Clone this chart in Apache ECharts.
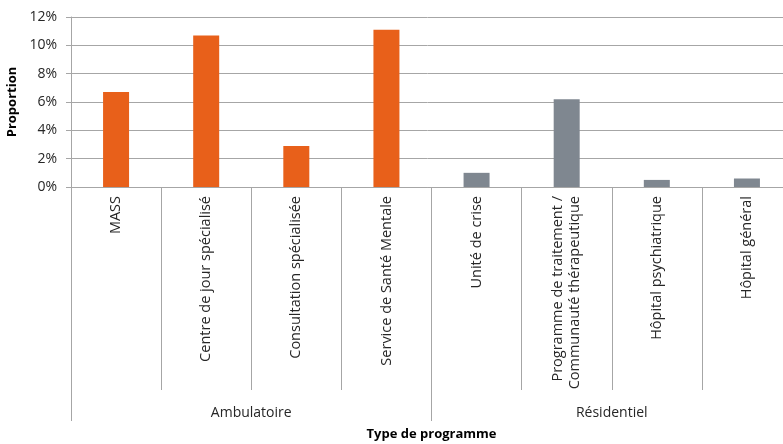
<!DOCTYPE html>
<html>
<head>
<meta charset="utf-8">
<script src="https://cdn.jsdelivr.net/npm/echarts@6/dist/echarts.min.js"></script>
<style>
  html, body { margin: 0; padding: 0; background: #fff; }
  #chart { width: 783px; height: 444px; }
</style>
</head>
<body>
<div id="chart"></div>
<script>
// catégories et valeurs (%)
const categories = [
  "MASS",
  "Centre de jour spécialisé",
  "Consultation spécialisée",
  "Service de Santé Mentale",
  "Unité de crise",
  "Programme de traitement /\nCommunauté thérapeutique",
  "Hôpital psychiatrique",
  "Hôpital général"
];
const values = [6.7, 10.7, 2.9, 11.1, 1.0, 6.2, 0.5, 0.6];
const groupOf = [0, 0, 0, 0, 1, 1, 1, 1];
const groups = ["Ambulatoire", "Résidentiel"];
const groupColors = ["#E8601A", "#7F8790"];
const yTicks = [0, 2, 4, 6, 8, 10, 12];

const font = "'Open Sans', 'Liberation Sans', sans-serif";
const axisGrey = "#A6A6A6";

const chart = echarts.init(document.getElementById("chart"));

const option = {
  animation: false,
  grid: { left: 71, right: -9, top: 17, bottom: 257, outerBoundsMode: "none", containLabel: false },
  xAxis: [
    {
      type: "category",
      data: categories,
      position: "bottom",
      axisLine: { show: true, lineStyle: { color: axisGrey, width: 1 } },
      axisTick: { show: true, length: 203, interval: 0, lineStyle: { color: axisGrey } },
      axisLabel: {
        interval: 0,
        rotate: 90,
        margin: 9,
        fontFamily: font,
        fontSize: 14.5,
        color: "#262626",
        lineHeight: 17
      },
      splitLine: { show: false }
    },
    {
      type: "category",
      data: groups,
      position: "bottom",
      axisLine: { show: false },
      axisTick: { show: true, length: 234, interval: 0, lineStyle: { color: axisGrey } },
      axisLabel: {
        interval: 0,
        margin: 219,
        fontFamily: font,
        fontSize: 14,
        color: "#262626"
      },
      name: "Type de programme",
      nameLocation: "middle",
      nameGap: 241,
      nameTextStyle: { fontFamily: font, fontSize: 13, fontWeight: "bold", color: "#000" }
    }
  ],
  yAxis: {
    type: "value",
    min: yTicks[0],
    max: yTicks[yTicks.length - 1],
    interval: 2,
    axisLine: { show: true, lineStyle: { color: axisGrey } },
    axisTick: { show: true, length: 5, lineStyle: { color: axisGrey } },
    axisLabel: {
      formatter: "{value}%",
      margin: 14,
      fontFamily: font,
      fontSize: 14,
      color: "#262626"
    },
    splitLine: { lineStyle: { color: axisGrey, width: 1 } },
    name: "Proportion",
    nameLocation: "middle",
    nameGap: 46,
    nameRotate: 90,
    nameTextStyle: { fontFamily: font, fontSize: 13, fontWeight: "bold", color: "#000" }
  },
  series: [
    {
      type: "bar",
      xAxisIndex: 0,
      barWidth: 26,
      data: values.map((v, i) => ({
        value: v,
        itemStyle: { color: groupColors[groupOf[i]] }
      }))
    }
  ]
};

chart.setOption(option);
</script>
</body>
</html>
